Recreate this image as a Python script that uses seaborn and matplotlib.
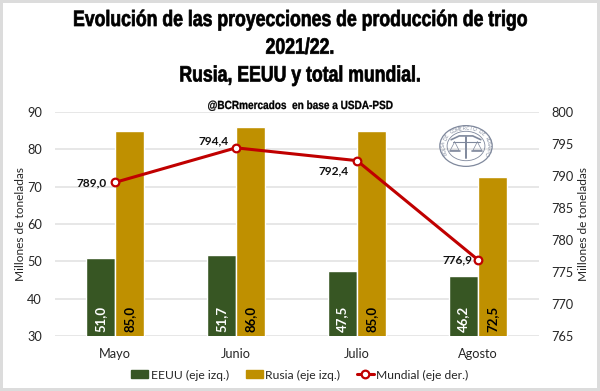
import numpy as np
import pandas as pd
import seaborn as sns
import matplotlib.pyplot as plt
from matplotlib.patches import Ellipse
from matplotlib.patheffects import AbstractPathEffect
from matplotlib.transforms import Affine2D

meses = ["Mayo", "Junio", "Julio", "Agosto"]
eeuu = [51.0, 51.7, 47.5, 46.2]
rusia = [85.0, 86.0, 85.0, 72.5]
mundial = [789.0, 794.4, 792.4, 776.9]
ticks_izq = [30, 40, 50, 60, 70, 80, 90]
ticks_der = [765, 770, 775, 780, 785, 790, 795, 800]
titulo = "Evolución de las proyecciones de producción de trigo\n2021/22.\nRusia, EEUU y total mundial."
fuente = "@BCRmercados  en base a USDA-PSD"
logo_txt = "BOLSA DE COMERCIO DE ROSARIO"

sns.set_theme(style="white")
plt.rcParams["font.family"] = ["Lato", "DejaVu Sans"]

VERDE = "#375623"
ORO = "#BF9000"
ROJO = "#C00000"
GRIS = "#262626"


class Angosta(AbstractPathEffect):
    # angosta el texto en horizontal, no hay fuente condensada instalada
    def __init__(self, xc, factor, grosor):
        super().__init__()
        self.xc = xc
        self.factor = factor
        self.grosor = grosor

    def draw_path(self, renderer, gc, tpath, affine, rgbFace=None):
        t = affine + Affine2D().translate(-self.xc, 0).scale(self.factor, 1).translate(self.xc, 0)
        gc0 = renderer.new_gc()
        gc0.copy_properties(gc)
        gc0.set_foreground("black")
        gc0.set_linewidth(self.grosor)
        renderer.draw_path(gc0, tpath, t, rgbFace)
        gc0.restore()


def coma(v):
    return f"{v:.1f}".replace(".", ",")


df = pd.DataFrame({"mes": meses * 2,
                   "serie": ["EEUU (eje izq.)"] * 4 + ["Rusia (eje izq.)"] * 4,
                   "valor": eeuu + rusia})
df2 = pd.DataFrame({"mes": meses, "mundial": mundial})

fig = plt.figure(figsize=(6, 3.91), dpi=100, facecolor="white", edgecolor="#dcdcdc", linewidth=4)
ax = fig.add_axes([54.5 / 600, 1 - 336 / 391, 484 / 600, 224 / 391])

sns.barplot(data=df, x="mes", y="valor", hue="serie", palette=[VERDE, ORO],
            width=0.48, gap=0, saturation=1, ax=ax, legend=False, zorder=2)
ax.set_ylim(30, 90)
ax.set_yticks(ticks_izq)
ax.set_xlim(-0.5, 3.5)
ax.set_xlabel("")
ax.set_ylabel("Millones de toneladas", fontsize=8.6, color=GRIS)
ax.yaxis.set_label_coords(-0.059, 0.5)
ax.grid(axis="y", color="#e3e3e3", lw=1.2, zorder=0)
ax.set_axisbelow(True)
ax.tick_params(axis="y", length=0, labelsize=9.2, labelcolor=GRIS, pad=9)
ax.tick_params(axis="x", length=0, labelsize=9.2, labelcolor=GRIS, pad=9)
sns.despine(ax=ax, left=True, bottom=True, right=True, top=True)

for cont, col in zip(ax.containers, ["white", "black"]):
    for b in cont:
        ax.annotate(coma(b.get_height()), (b.get_x() + b.get_width() / 2, 30), xytext=(0, 3),
                    textcoords="offset points", ha="center", va="bottom", rotation=90,
                    color=col, fontsize=9.5, fontweight="bold", zorder=5)

ax2 = ax.twinx()
sns.lineplot(data=df2, x="mes", y="mundial", color=ROJO, lw=2.2, marker="o", markersize=5.5,
             markerfacecolor="white", markeredgecolor=ROJO, markeredgewidth=1.6, ax=ax2,
             zorder=4, sort=False)
ax2.set_ylim(765, 800)
ax2.set_yticks(ticks_der)
ax2.set_ylabel("Millones de toneladas", fontsize=8.6, color=GRIS)
ax2.yaxis.set_label_coords(1.081, 0.5)
ax2.grid(False)
ax2.tick_params(axis="y", length=0, labelsize=9.2, labelcolor=GRIS, pad=9)
sns.despine(ax=ax2, left=True, bottom=True, right=True, top=True)

desp = [(-17, 0), (-16.5, 5), (-17, -7.5), (-15, 0)]
for i, v in enumerate(mundial):
    ax2.annotate(coma(v), (i, v), xytext=desp[i], textcoords="offset points", ha="center",
                 va="center", fontsize=8.6, fontweight="bold", color="#111111", zorder=6)

# titulo y fuente
fig.text(0.5, 1 - 10 / 391, titulo, ha="center", va="top", fontsize=16, fontweight="bold",
         linespacing=1.42, color="black", family="Liberation Sans",
         path_effects=[Angosta(300, 0.795, 0.5)])
fig.text(0.5, 1 - 106 / 391, fuente, ha="center", va="center", fontsize=8.5, fontweight="bold",
         color="black", family="Liberation Sans", path_effects=[Angosta(300, 0.85, 0.2)])

# sello de la bolsa, arriba a la derecha
logo = fig.add_axes([439 / 600, 1 - 167 / 391, 54 / 600, 42 / 391])
logo.set_xlim(-1, 1)
logo.set_ylim(-1, 1)
logo.axis("off")
SELLO = "#7f889c"
logo.add_patch(Ellipse((0, 0), 1.94, 1.94, fill=False, ec=SELLO, lw=0.9))
logo.add_patch(Ellipse((0, 0), 1.4, 1.4, fill=False, ec=SELLO, lw=0.6))
angs = np.linspace(205, -25, len(logo_txt))
for ch, a in zip(logo_txt, angs):
    r = np.deg2rad(a)
    logo.text(0.83 * np.cos(r), 0.83 * np.sin(r), ch, fontsize=3.4, color=SELLO, ha="center",
              va="center", rotation=a - 90)
logo.plot([0, 0], [-0.55, 0.45], color=SELLO, lw=1.4)
logo.plot([-0.5, 0.5], [0.2, 0.2], color=SELLO, lw=0.8)
logo.plot([-0.55, -0.25, 0.25, 0.55], [0.3, 0.48, 0.48, 0.3], color=SELLO, lw=1.2)
for s in [-1, 1]:
    logo.plot([s * 0.42, s * 0.26, s * 0.58, s * 0.42], [0.2, -0.2, -0.2, 0.2], color=SELLO, lw=0.5)
    logo.plot([s * 0.24, s * 0.6], [-0.22, -0.22], color=SELLO, lw=1.2)

# leyenda
h1 = plt.Rectangle((0, 0), 1, 1, color=VERDE)
h2 = plt.Rectangle((0, 0), 1, 1, color=ORO)
h3 = plt.Line2D([], [], color=ROJO, lw=2.2, marker="o", markersize=5.5, markerfacecolor="white",
                markeredgecolor=ROJO, markeredgewidth=1.6)
fig.legend([h1, h2, h3], ["EEUU (eje izq.)", "Rusia (eje izq.)", "Mundial (eje der.)"],
           loc="center", bbox_to_anchor=(0.5, 1 - 375 / 391), ncol=3, frameon=False,
           fontsize=8.7, labelcolor=GRIS, handlelength=1.4, handleheight=0.65, handletextpad=0.2,
           columnspacing=1.4)

fig.savefig("out.png", dpi=100)
